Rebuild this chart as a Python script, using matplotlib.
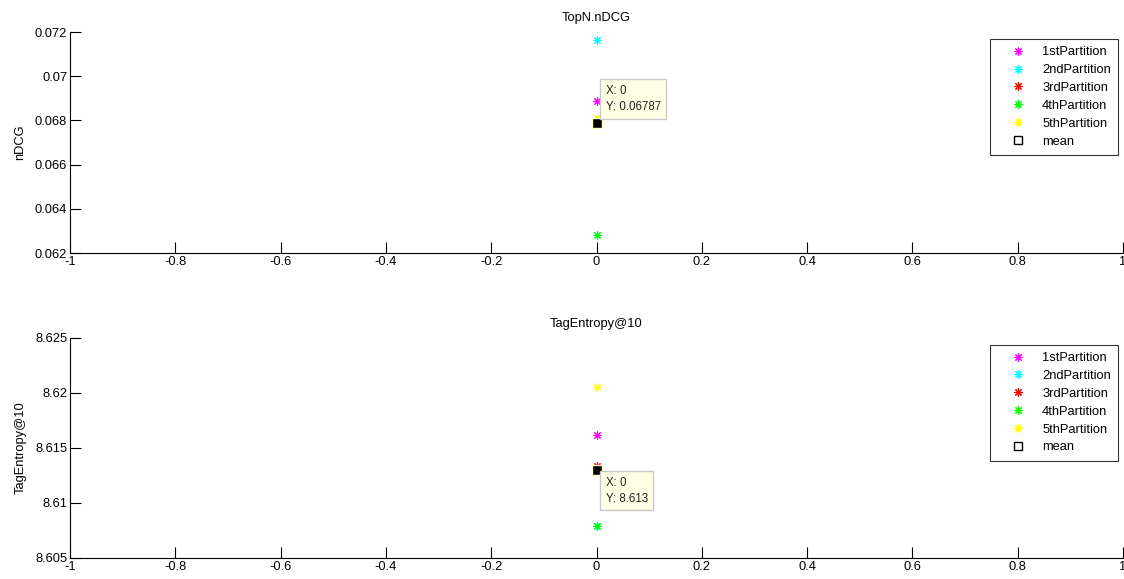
import matplotlib.pyplot as plt

plt.rcParams['font.family'] = ['Liberation Sans', 'DejaVu Sans']

names = ['1stPartition', '2ndPartition', '3rdPartition', '4thPartition', '5thPartition']
colors = ['#ff00ff', '#00ffff', '#ff0000', '#00ff00', '#ffff00']

# one value per partition, all at x = 0
ndcg = [0.06888, 0.07164, 0.06790, 0.06282, 0.06812]
ndcg_mean = 0.06787
entropy = [8.61618, 8.60791, 8.61335, 8.60791, 8.62055]
entropy_mean = 8.613

panels = [
    ('TopN.nDCG', 'nDCG', ndcg, ndcg_mean, (0.062, 0.072), [0.062, 0.064, 0.066, 0.068, 0.07, 0.072],
     ['0.062', '0.064', '0.066', '0.068', '0.07', '0.072'], 'Y: 0.06787', 'above'),
    ('TagEntropy@10', 'TagEntropy@10', entropy, entropy_mean, (8.605, 8.625),
     [8.605, 8.61, 8.615, 8.62, 8.625], ['8.605', '8.61', '8.615', '8.62', '8.625'], 'Y: 8.613', 'below'),
]

fig = plt.figure(figsize=(11.24, 5.79), dpi=100)
rects = [[0.0623, 0.563, 0.9368, 0.3817], [0.0623, 0.0363, 0.9368, 0.38]]
xt = [-1, -0.8, -0.6, -0.4, -0.2, 0, 0.2, 0.4, 0.6, 0.8, 1]
xl = ['-1', '-0.8', '-0.6', '-0.4', '-0.2', '0', '0.2', '0.4', '0.6', '0.8', '1']

for rect, (title, ylab, vals, mean, ylim, yt, ytl, tip, where) in zip(rects, panels):
    ax = fig.add_axes(rect)
    for v, c, n in zip(vals, colors, names):
        ax.plot([0], [v], linestyle='none', marker=(8, 2, 0), markersize=6,
                markeredgewidth=0.8, color=c, label=n)
    ax.plot([0], [mean], linestyle='none', marker='s', markersize=6,
            markerfacecolor='none', markeredgecolor='k', label='mean')
    # datatip highlight
    ax.plot([0], [mean], linestyle='none', marker='s', markersize=7,
            markerfacecolor='k', markeredgecolor='#ffffcc', markeredgewidth=1)
    tipbox = dict(boxstyle='square,pad=0.5', fc='#ffffe6', ec='#c8c8c8', lw=1)
    if where == 'above':
        ax.annotate('X: 0\n' + tip, (0, mean), xytext=(9, 10), textcoords='offset pixels',
                    ha='left', va='bottom', fontsize=8.3, color='#222222', linespacing=1.45,
                    bbox=tipbox)
    else:
        ax.annotate('X: 0\n' + tip, (0, mean), xytext=(9, -7), textcoords='offset pixels',
                    ha='left', va='top', fontsize=8.3, color='#222222', linespacing=1.4,
                    bbox=tipbox)

    ax.set_xlim(-1, 1)
    ax.set_ylim(*ylim)
    ax.set_xticks(xt)
    ax.set_xticklabels(xl)
    ax.set_yticks(yt)
    ax.set_yticklabels(ytl)
    ax.spines['top'].set_visible(False)
    ax.spines['right'].set_visible(False)
    for s in ('left', 'bottom'):
        ax.spines[s].set_linewidth(0.8)
    ax.tick_params(direction='in', length=8, width=0.8, labelsize=9.3, pad=2)
    ax.set_title(title, fontsize=9.3, pad=8)
    ax.set_ylabel(ylab, fontsize=9.3, labelpad=6)
    leg = ax.legend(loc='upper right', bbox_to_anchor=(0.9953, 0.968), borderaxespad=0,
                    fontsize=9.3, frameon=True, fancybox=False, edgecolor='k', borderpad=0.55,
                    labelspacing=0.45, handlelength=3.25, handletextpad=0.25)
    leg.get_frame().set_linewidth(0.8)

fig.savefig('out.png', dpi=100)
